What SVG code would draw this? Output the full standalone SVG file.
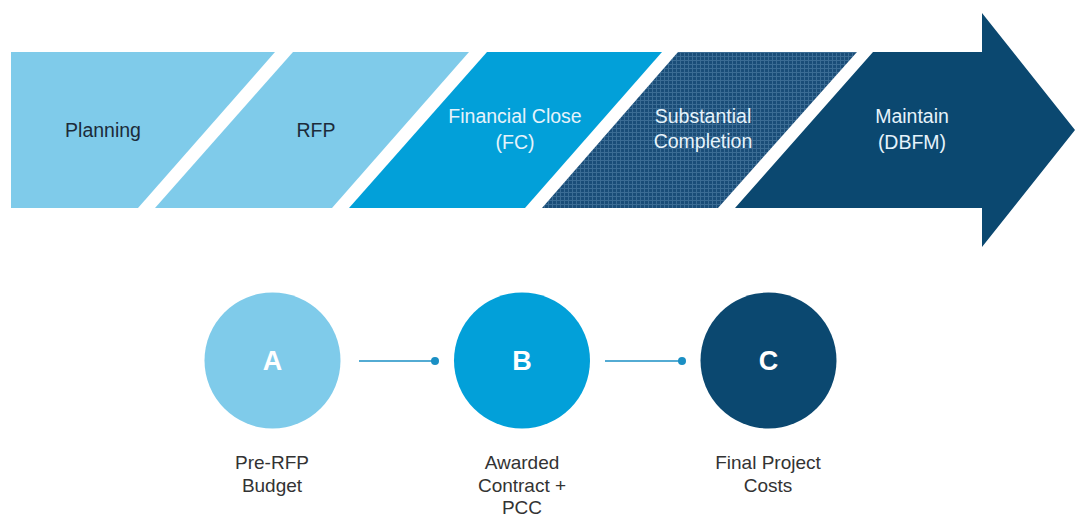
<svg xmlns="http://www.w3.org/2000/svg" width="1075" height="516" viewBox="0 0 1075 516">
<defs>
<pattern id="grid" width="4" height="4" patternUnits="userSpaceOnUse">
<rect width="4" height="4" fill="#1a4d78"/>
<path d="M0 0.5H4M0.5 0V4" stroke="#3b6c94" stroke-width="1"/>
</pattern>
</defs>
<style>
.t{font-family:"Liberation Sans",Arial,sans-serif;font-size:19.5px;text-anchor:middle}
.dk{fill:#1c2b3a}
.wt{fill:#e6f3fb}
.lt{fill:#7fcbea}
.md{fill:#02a0d9}
.nv{fill:#0b4870}
.let{font-family:"Liberation Sans",Arial,sans-serif;font-size:27px;font-weight:bold;fill:#ffffff;text-anchor:middle}
.lab{font-family:"Liberation Sans",Arial,sans-serif;font-size:19px;fill:#333333;text-anchor:middle}
.con{stroke:#1a8fc4;stroke-width:1.6;fill:none}
</style>
<rect width="1075" height="516" fill="#ffffff"/>
<g id="planning">
<polygon class="lt" points="11,52 275,52 138,208 11,208"/>
<text class="t dk" x="103" y="137">Planning</text>
</g>
<g id="rfp">
<polygon class="lt" points="293,52 469,52 332,208 155,208"/>
<text class="t dk" x="316" y="137">RFP</text>
</g>
<g id="fc">
<polygon class="md" points="487,52 662,52 525,208 349,208"/>
<text class="t wt" x="515" y="123">Financial Close</text>
<text class="t wt" x="515" y="149">(FC)</text>
</g>
<g id="sc">
<polygon fill="url(#grid)" points="678,52 857,52 718,208 542,208"/>
<text class="t wt" x="703" y="123">Substantial</text>
<text class="t wt" x="703" y="148">Completion</text>
</g>
<g id="maintain">
<polygon class="nv" points="873,52 982,52 982,13 1075,130 982,247 982,208 735,208"/>
<text class="t wt" x="912" y="123">Maintain</text>
<text class="t wt" x="912" y="149">(DBFM)</text>
</g>
<g id="connectors">
<line class="con" x1="359" y1="361" x2="434" y2="361"/>
<circle cx="435" cy="361" r="4" fill="#1a8fc4"/>
<line class="con" x1="605" y1="361" x2="681" y2="361"/>
<circle cx="682" cy="361" r="4" fill="#1a8fc4"/>
</g>
<g id="nodeA">
<circle class="lt" cx="272.5" cy="360.5" r="68"/>
<text class="let" x="272.5" y="370">A</text>
<text class="lab" x="272" y="469">Pre-RFP</text>
<text class="lab" x="272" y="492">Budget</text>
</g>
<g id="nodeB">
<circle class="md" cx="522" cy="360.5" r="68"/>
<text class="let" x="522" y="370">B</text>
<text class="lab" x="522" y="469">Awarded</text>
<text class="lab" x="522" y="492">Contract +</text>
<text class="lab" x="522" y="514">PCC</text>
</g>
<g id="nodeC">
<circle class="nv" cx="768.5" cy="360.5" r="68"/>
<text class="let" x="768.5" y="370">C</text>
<text class="lab" x="768" y="469">Final Project</text>
<text class="lab" x="768" y="492">Costs</text>
</g>
</svg>
